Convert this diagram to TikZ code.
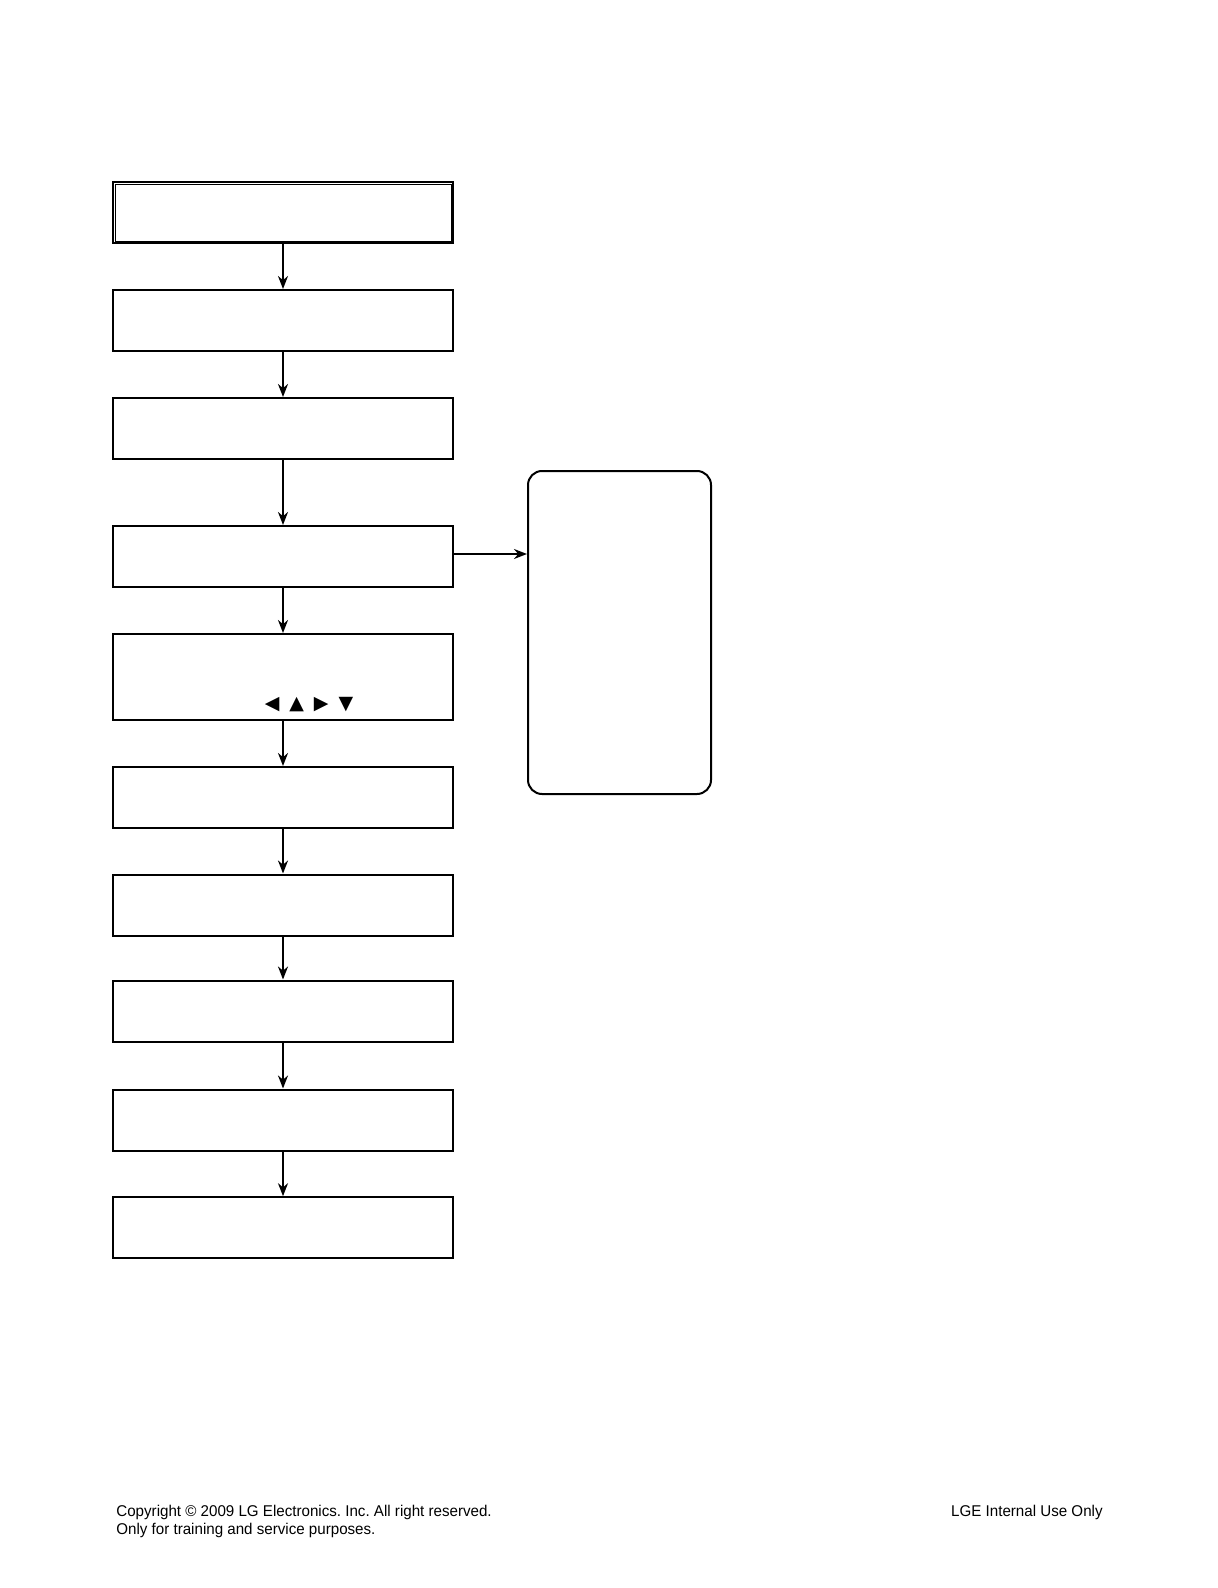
\documentclass[tikz,border=0pt]{standalone}
\usepackage{fontspec}
\usetikzlibrary{arrows.meta}
\newfontfamily\footfont[FakeStretch=0.97]{Liberation Sans}
\newfontfamily\symfont{DejaVu Sans}
\frenchspacing
\tikzset{
  stepbox/.style={draw, line width=1pt, minimum width=170pt, minimum height=30.5pt, inner sep=0pt},
  flow/.style={line width=1pt, -{Stealth[length=6.5pt,width=5pt]}},
  foot/.style={font=\footfont\fontsize{7.8}{9}\selectfont, inner sep=0pt}
}

\begin{document}
\begin{tikzpicture}[x=0.5pt, y=-0.5pt]
\useasboundingbox (0,0) rectangle (1218,1588); %page frame
\node[stepbox] (s1) at (283,213) {}; %first box, double frame
\draw[line width=0.5pt] ([shift={(3,3)}]s1.north west) rectangle ([shift={(-3,-3)}]s1.south east); %inner frame of first box
\node[stepbox] (s2) at (283,320.5) {};
\node[stepbox] (s3) at (283,428.5) {};
\node[stepbox] (s4) at (283,556.5) {};
\node[stepbox, minimum height=43pt] (s5) at (283,677) {}; %taller box with the keys
\node[font=\symfont\fontsize{9.5}{10}\selectfont, inner sep=0pt] (keys) at (309,705) {◀\hspace{5pt}▲\hspace{5pt}▶\hspace{5pt}▼}; %cursor keys
\node[stepbox] (s6) at (283,797.5) {};
\node[stepbox] (s7) at (283,905) {};
\node[stepbox] (s8) at (283,1011) {};
\node[stepbox] (s9) at (283,1120) {};
\node[stepbox] (s10) at (283,1227.7) {};
\node[draw, line width=1pt, rounded corners=7pt, minimum width=91.5pt, minimum height=161.5pt] (side) at (619.5,632.5) {}; %rounded side box
\foreach \a/\b in {s1/s2, s2/s3, s3/s4, s4/s5, s5/s6, s6/s7, s7/s8, s8/s9, s9/s10}
  \draw[flow] (\a) -- (\b); %down arrows
\draw[flow] ([yshift=1.25pt]s4.east) -- ([yshift=1.25pt]s4.east -| side.west); %arrow to side box
\node[foot, anchor=base west] (copy) at (116,1516) {Copyright © 2009 LG Electronics. Inc. All right reserved.}; %footer left
\node[foot, anchor=base west] (train) at (116,1534) {Only for training and service purposes.};
\node[foot, anchor=base east] (lge) at (1103,1516) {LGE Internal Use Only}; %footer right
\end{tikzpicture}
\end{document}
